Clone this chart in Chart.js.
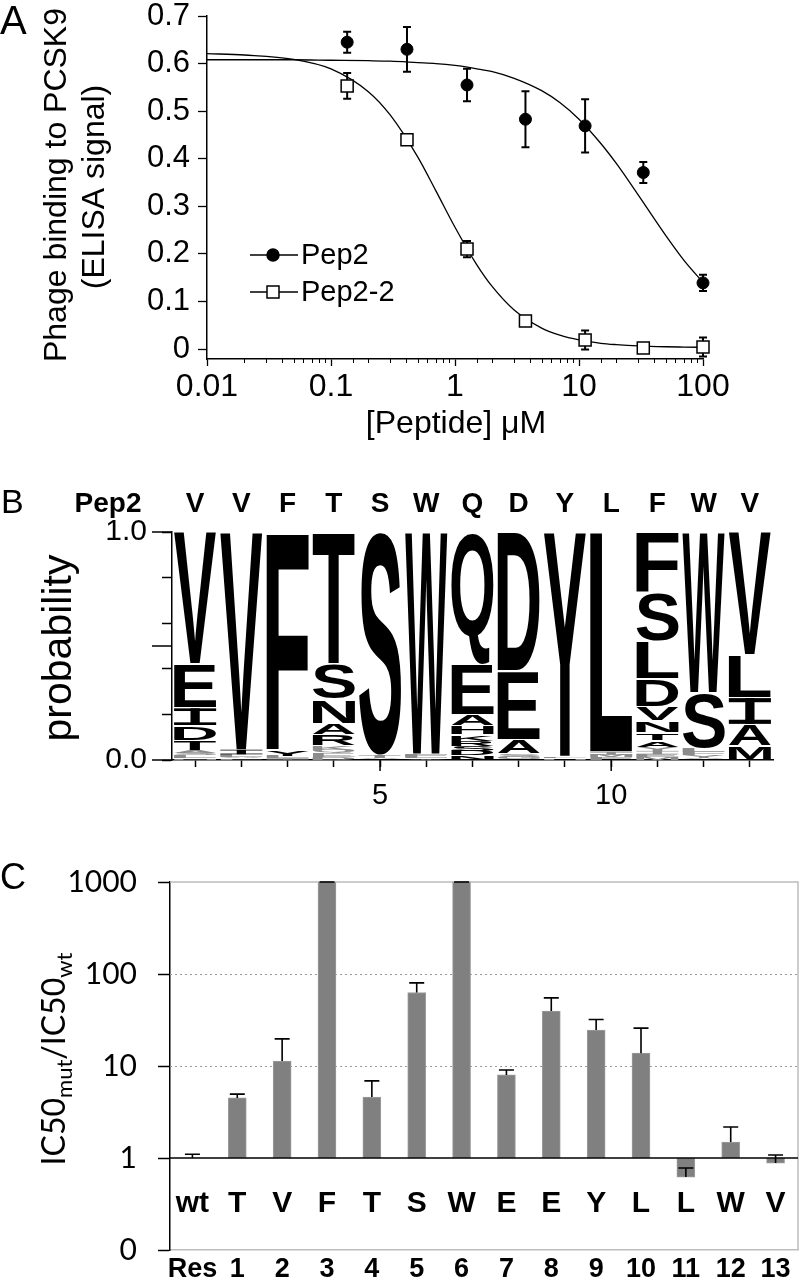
<!DOCTYPE html>
<html><head><meta charset="utf-8">
<script src="https://cdn.jsdelivr.net/npm/chart.js@4.4.0/dist/chart.umd.min.js"></script>
<style>
body{margin:0;background:#fff;width:800px;height:1277px;position:relative;overflow:hidden}
canvas{position:absolute;left:0}
</style></head><body>
<canvas id="cA" width="800" height="445" style="top:0px;width:800px;height:445px"></canvas>
<canvas id="cB" width="800" height="385" style="top:445px;width:800px;height:385px"></canvas>
<canvas id="cC" width="800" height="447" style="top:830px;width:800px;height:447px"></canvas>
<script>
// ================= DATA =================
// Panel A
const concA = [0.135, 0.41, 1.25, 3.7, 11.2, 33, 100];
const pep2Vals = [0.645, 0.630, 0.555, 0.483, 0.469, 0.371, 0.139];
const pep2Err = [0.022, 0.047, 0.034, 0.059, 0.056, 0.022, 0.017];
const pep22Vals = [0.553, 0.440, 0.210, 0.059, 0.019, 0.002, 0.004];
const pep22Err = [0.027, 0.006, 0.017, 0.006, 0.020, 0.008, 0.020];
const curveX = [0.01,0.02,0.05,0.1,0.2,0.3,0.5,0.7,1,1.5,2,3,5,7,10,15,20,30,50,70,100];
const pep2Curve = [0.608,0.608,0.608,0.607,0.606,0.605,0.602,0.600,0.596,0.589,0.583,0.569,0.543,0.518,0.483,0.432,0.390,0.324,0.239,0.187,0.140];
const pep22Curve = [0.621,0.618,0.609,0.589,0.541,0.492,0.404,0.333,0.256,0.177,0.131,0.082,0.044,0.029,0.019,0.012,0.0092,0.0065,0.0047,0.0041,0.0036];
const seriesNamesA = ['Pep2', 'Pep2-2'];
const yTicksA = [0, 0.1, 0.2, 0.3, 0.4, 0.5, 0.6, 0.7];
const xDecadeLabelsA = ['0.01', '0.1', '1', '10', '100'];

// Panel B (sequence logo)
const logoPositions = ['1','2','3','4','5','6','7','8','9','10','11','12','13'];
const pep2Seq = ['V','V','F','T','S','W','Q','D','Y','L','F','W','V'];
const logoLetters = [
  ['V','E','I','D','T','A','S','L','N'],
  ['V','I','L','A','F'],
  ['F','Y','L','I'],
  ['T','S','N','A','R','K','Q','E','D'],
  ['S','T','A'],
  ['W','F','L','Y'],
  ['Q','E','A','H','K','R','S','D','N'],
  ['D','E','A','S','G'],
  ['Y','F','H'],
  ['L','I','M','F'],
  ['F','S','L','D','V','N','T','A','Y','I','E','M'],
  ['W','S','L','F','Y','A'],
  ['V','L','I','A','M']
];
const logoProbs = [
  [0.58,0.19,0.08,0.065,0.045,0.01,0.01,0.01,0.01],
  [0.955,0.02,0.01,0.008,0.007],
  [0.955,0.03,0.008,0.007],
  [0.58,0.155,0.105,0.05,0.05,0.015,0.015,0.015,0.015],
  [0.98,0.01,0.01],
  [0.975,0.01,0.008,0.007],
  [0.58,0.22,0.05,0.04,0.03,0.02,0.02,0.02,0.02],
  [0.61,0.30,0.065,0.012,0.013],
  [0.985,0.008,0.007],
  [0.965,0.012,0.012,0.011],
  [0.265,0.215,0.165,0.12,0.065,0.05,0.035,0.03,0.015,0.015,0.013,0.012],
  [0.706,0.244,0.015,0.015,0.01,0.01],
  [0.54,0.185,0.12,0.095,0.06]
];
const xLabelsShownB = ['5', '10'];
const yMajorB = [0, 0.5, 1.0];

// Panel C
const resLabels = ['Res','1','2','3','4','5','6','7','8','9','10','11','12','13'];
const resLetters = ['wt','T','V','F','T','S','W','E','E','Y','L','L','W','V'];
const ratioVals = [1.0, 4.5, 11.3, 1000, 4.6, 63, 1000, 8.0, 39.5, 24.6, 13.8, 0.62, 1.49, 0.88];
const ratioErrTop = [1.1, 4.95, 19.7, 1000, 6.9, 80, 1000, 9.05, 55, 32, 25.8, 0.78, 2.17, 1.08];
const yTicksC = [0.1, 1, 10, 100, 1000];
const yTickLabelsC = ['0', '1', '10', '100', '1000'];
const gridValuesC = [10, 100];
const baselineC = 1;

// ================= HELPERS =================
const ARIAL = '"Liberation Sans", Arial, Helvetica, sans-serif';
const CALI = 'Lato, "Open Sans", sans-serif';
const isDecade = v => Math.abs(Math.log10(v) - Math.round(Math.log10(v))) < 1e-9;
const common = {
  responsive: false, animation: false, devicePixelRatio: 1,
  plugins: { legend: { display: false }, tooltip: { enabled: false } }
};

// ================= PANEL A =================
const plugA = {
  id: 'plugA',
  beforeDatasetsDraw(chart) {
    const ctx = chart.ctx, xs = chart.scales.x, ys = chart.scales.y;
    ctx.save();
    ctx.strokeStyle = '#000'; ctx.lineWidth = 2;
    const draw = (vals, errs) => {
      vals.forEach((v, i) => {
        const x = xs.getPixelForValue(concA[i]);
        const y1 = ys.getPixelForValue(v + errs[i]), y2 = ys.getPixelForValue(v - errs[i]);
        ctx.beginPath();
        ctx.moveTo(x, y1); ctx.lineTo(x, y2);
        ctx.moveTo(x - 4, y1); ctx.lineTo(x + 4, y1);
        ctx.moveTo(x - 4, y2); ctx.lineTo(x + 4, y2);
        ctx.stroke();
      });
    };
    draw(pep2Vals, pep2Err);
    draw(pep22Vals, pep22Err);
    ctx.restore();
  },
  afterDraw(chart) {
    const ctx = chart.ctx, xs = chart.scales.x, ca = chart.chartArea;
    ctx.save();
    ctx.strokeStyle = '#000'; ctx.lineWidth = 1;
    xs.ticks.forEach(t => {
      if (!isDecade(t.value)) {
        const x = Math.round(xs.getPixelForValue(t.value)) + 0.5;
        ctx.beginPath(); ctx.moveTo(x, ca.bottom); ctx.lineTo(x, ca.bottom + 4); ctx.stroke();
      }
    });
    const rows = [{y: 255, fill: '#000', style: 'circle'}, {y: 292, fill: '#fff', style: 'rect'}];
    rows.forEach((r, i) => {
      ctx.strokeStyle = '#000'; ctx.lineWidth = 1.3;
      ctx.beginPath(); ctx.moveTo(250, r.y); ctx.lineTo(298, r.y); ctx.stroke();
      ctx.lineWidth = 1.5; ctx.fillStyle = r.fill;
      ctx.beginPath();
      if (r.style === 'circle') ctx.arc(273, r.y, 6, 0, Math.PI * 2);
      else ctx.rect(267, r.y - 6, 12, 12);
      ctx.fill(); ctx.stroke();
      ctx.fillStyle = '#000'; ctx.font = '29px ' + ARIAL;
      ctx.textAlign = 'left'; ctx.textBaseline = 'middle';
      ctx.fillText(seriesNamesA[i], 301, r.y + 1);
    });
    ctx.fillStyle = '#000';
    ctx.font = '32px ' + ARIAL; ctx.textAlign = 'center'; ctx.textBaseline = 'alphabetic';
    ctx.fillText('[Peptide] \u03BCM', 456, 433);
    ctx.save();
    ctx.translate(66, 185); ctx.rotate(-Math.PI / 2);
    ctx.fillText('Phage binding to PCSK9', 0, 0);
    ctx.restore();
    ctx.save();
    ctx.translate(104, 187); ctx.rotate(-Math.PI / 2);
    ctx.fillText('(ELISA signal)', 0, 0);
    ctx.restore();
    ctx.font = '40px ' + ARIAL; ctx.textAlign = 'left';
    ctx.fillText('A', 0, 34);
    ctx.restore();
  }
};

new Chart(document.getElementById('cA'), {
  type: 'scatter',
  data: {
    datasets: [
      { label: seriesNamesA[0], data: concA.map((x, i) => ({x, y: pep2Vals[i]})), showLine: false,
        pointStyle: 'circle', pointRadius: 6, backgroundColor: '#000', borderColor: '#000', borderWidth: 1, clip: false },
      { label: seriesNamesA[1], data: concA.map((x, i) => ({x, y: pep22Vals[i]})), showLine: false,
        pointStyle: 'rect', pointRadius: 8.5, backgroundColor: '#fff', borderColor: '#000', borderWidth: 1.5, clip: false },
      { data: curveX.map((x, i) => ({x, y: pep2Curve[i]})), showLine: true, pointRadius: 0,
        borderColor: '#000', borderWidth: 1.3, cubicInterpolationMode: 'monotone' },
      { data: curveX.map((x, i) => ({x, y: pep22Curve[i]})), showLine: true, pointRadius: 0,
        borderColor: '#000', borderWidth: 1.3, cubicInterpolationMode: 'monotone' }
    ]
  },
  options: Object.assign({}, common, {
    layout: { padding: { top: 16, right: 97, left: 0, bottom: 0 } },
    scales: {
      x: {
        type: 'logarithmic', min: 0.01, max: 100,
        afterFit(s) { s.height = 86; s.paddingLeft = 0; s.paddingRight = 0; },
        grid: { drawOnChartArea: false, drawTicks: true, tickLength: 7, tickWidth: 1.3,
                tickColor: c => (c.tick && isDecade(c.tick.value)) ? '#000' : 'rgba(0,0,0,0)' },
        border: { display: true, color: '#000', width: 1.5 },
        ticks: { autoSkip: false, maxRotation: 0, minRotation: 0, padding: 2, color: '#000',
                 font: { family: ARIAL, size: 32 },
                 callback(v) { return isDecade(v) ? xDecadeLabelsA[Math.round(Math.log10(v)) + 2] : ''; } }
      },
      y: {
        min: -0.021, max: 0.7,
        afterBuildTicks(s) { s.ticks = yTicksA.map(v => ({value: v})); },
        afterFit(s) { s.width = 207; s.paddingTop = 0; s.paddingBottom = 0; },
        grid: { drawOnChartArea: false, tickLength: 9, tickColor: '#000', tickWidth: 1.3 },
        border: { display: true, color: '#000', width: 1.5 },
        ticks: { padding: 8, color: '#000', font: { family: ARIAL, size: 31 },
                 callback(v) { return Math.abs(v) < 1e-9 ? '0' : v.toFixed(1); } }
      }
    }
  }),
  plugins: [plugA]
});

// ================= PANEL B =================
const maxLen = Math.max(...logoLetters.map(a => a.length));
const revLetters = logoLetters.map(a => a.slice().reverse());
const revProbs = logoProbs.map(a => a.slice().reverse());
const logoDatasets = [];
for (let k = 0; k < maxLen; k++) {
  logoDatasets.push({
    data: revProbs.map(p => (k < p.length ? p[k] : 0)),
    backgroundColor: 'rgba(0,0,0,0)', borderWidth: 0,
    barPercentage: 0.91, categoryPercentage: 1.0
  });
}
const glyphCache = {};
function drawGlyph(ctx, ch, x, y, w, h, color) {
  if (h <= 0.3 || w <= 0) return;
  ctx.save();
  ctx.fillStyle = color;
  if (ch === 'I') {
    // serifed capital I as used by the logo font
    const bar = Math.max(h * 0.16, 0.6), stem = w * 0.22;
    ctx.fillRect(x, y, w, bar);
    ctx.fillRect(x + (w - stem) / 2, y, stem, h);
    ctx.fillRect(x, y + h - bar, w, bar);
    ctx.restore();
    return;
  }
  ctx.font = 'bold 200px ' + ARIAL;
  ctx.textAlign = 'left'; ctx.textBaseline = 'alphabetic';
  let m = glyphCache[ch];
  if (!m) {
    const mm = ctx.measureText(ch);
    m = glyphCache[ch] = { l: mm.actualBoundingBoxLeft, r: mm.actualBoundingBoxRight,
                           a: mm.actualBoundingBoxAscent, d: mm.actualBoundingBoxDescent };
  }
  const gw = m.l + m.r, gh = m.a + m.d;
  ctx.translate(x, y);
  ctx.scale(w / gw, h / gh);
  ctx.fillText(ch, m.l, m.a);
  ctx.restore();
}
const plugB = {
  id: 'plugB',
  afterDatasetsDraw(chart) {
    const ctx = chart.ctx;
    for (let k = 0; k < maxLen; k++) {
      const meta = chart.getDatasetMeta(k);
      meta.data.forEach((bar, i) => {
        if (k >= revLetters[i].length) return;
        const p = bar.getProps(['x', 'y', 'base', 'width'], true);
        const top = Math.min(p.y, p.base), h = Math.abs(p.base - p.y);
        let y0 = top, hh = h;
        if (h > 5) { y0 = top + 0.8; hh = h - 1.6; }
        const col = h < 3.5 ? '#8c8c8c' : '#000';
        drawGlyph(ctx, revLetters[i][k], p.x - p.width / 2, y0, p.width, hh, col);
      });
    }
  },
  afterDraw(chart) {
    const ctx = chart.ctx, xs = chart.scales.x, ys = chart.scales.y, ca = chart.chartArea;
    ctx.save();
    ctx.strokeStyle = '#000'; ctx.lineWidth = 1.5;
    yMajorB.forEach(v => {
      const y = ys.getPixelForValue(v);
      ctx.beginPath(); ctx.moveTo(ca.left - 20, y); ctx.lineTo(ca.left, y); ctx.stroke();
    });
    logoPositions.forEach((lab, i) => {
      if (xLabelsShownB.includes(lab)) {
        const x = xs.getPixelForValue(i);
        ctx.beginPath(); ctx.moveTo(x, ca.bottom); ctx.lineTo(x, ca.bottom + 11); ctx.stroke();
      }
    });
    ctx.fillStyle = '#000';
    ctx.font = 'bold 28px ' + ARIAL; ctx.textAlign = 'center'; ctx.textBaseline = 'alphabetic';
    ctx.fillText('Pep2', 108, 67);
    pep2Seq.forEach((c, i) => ctx.fillText(c, xs.getPixelForValue(i), 67));
    ctx.font = '41px ' + ARIAL;
    ctx.save(); ctx.translate(71, 203); ctx.rotate(-Math.PI / 2);
    ctx.fillText('probability', 0, 0);
    ctx.restore();
    ctx.font = '34px ' + ARIAL; ctx.textAlign = 'left';
    ctx.fillText('B', 1, 68);
    ctx.restore();
  }
};
new Chart(document.getElementById('cB'), {
  type: 'bar',
  data: { labels: logoPositions, datasets: logoDatasets },
  options: Object.assign({}, common, {
    layout: { padding: { top: 87, right: 27, left: 0, bottom: 0 } },
    scales: {
      x: {
        stacked: true,
        afterFit(s) { s.height = 70; s.paddingLeft = 0; s.paddingRight = 0; },
        grid: { drawOnChartArea: false, offset: false, tickLength: 7, tickColor: '#000', tickWidth: 1.5 },
        border: { display: true, color: '#000', width: 1.5 },
        ticks: { autoSkip: false, maxRotation: 0, padding: 12, color: '#000', font: { family: ARIAL, size: 29 },
                 callback(v, i) { return xLabelsShownB.includes(logoPositions[i]) ? logoPositions[i] : ''; } }
      },
      y: {
        stacked: true, min: 0, max: 1,
        afterFit(s) { s.width = 172; s.paddingTop = 0; s.paddingBottom = 0; },
        grid: { drawOnChartArea: false, tickLength: 10, tickColor: '#000', tickWidth: 1.5 },
        border: { display: true, color: '#000', width: 1.5 },
        ticks: { stepSize: 0.1, padding: 15, color: '#000', font: { family: ARIAL, size: 30 },
                 callback(v) { return yMajorB.some(m => Math.abs(m - v) < 1e-6) ? v.toFixed(1) : ''; } }
      }
    }
  }),
  plugins: [plugB]
});

// ================= PANEL C =================
const plugC = {
  id: 'plugC',
  beforeDatasetsDraw(chart) {
    const ctx = chart.ctx, ys = chart.scales.y, ca = chart.chartArea;
    ctx.save();
    ctx.strokeStyle = '#9a9a9a'; ctx.lineWidth = 1; ctx.setLineDash([2, 3]);
    gridValuesC.forEach(v => {
      const y = Math.round(ys.getPixelForValue(v)) + 0.5;
      ctx.beginPath(); ctx.moveTo(ca.left, y); ctx.lineTo(ca.right, y); ctx.stroke();
    });
    ctx.setLineDash([]);
    ctx.strokeStyle = '#bdbdbd'; ctx.lineWidth = 1.5;
    ctx.beginPath();
    ctx.moveTo(ca.left, ys.getPixelForValue(1000)); ctx.lineTo(ca.right, ys.getPixelForValue(1000));
    ctx.lineTo(ca.right, ca.bottom);
    ctx.stroke();
    ctx.restore();
  },
  afterDatasetsDraw(chart) {
    const ctx = chart.ctx, ys = chart.scales.y, ca = chart.chartArea;
    const meta = chart.getDatasetMeta(0);
    ctx.save();
    ctx.strokeStyle = '#000'; ctx.lineWidth = 1.5;
    const yb = ys.getPixelForValue(baselineC);
    ctx.beginPath(); ctx.moveTo(ca.left, yb); ctx.lineTo(ca.right, yb); ctx.stroke();
    ctx.lineWidth = 1.6;
    meta.data.forEach((bar, i) => {
      const x = bar.x;
      const yv = ys.getPixelForValue(ratioVals[i]), yt = ys.getPixelForValue(ratioErrTop[i]);
      ctx.beginPath();
      ctx.moveTo(x, yv); ctx.lineTo(x, yt);
      ctx.moveTo(x - 7.5, yt); ctx.lineTo(x + 7.5, yt);
      ctx.stroke();
    });
    ctx.fillStyle = '#000'; ctx.font = 'bold 30px ' + ARIAL;
    ctx.textAlign = 'center'; ctx.textBaseline = 'middle';
    meta.data.forEach((bar, i) => ctx.fillText(resLetters[i], bar.x, 374));
    ctx.restore();
  },
  afterDraw(chart) {
    const ctx = chart.ctx;
    ctx.save();
    ctx.fillStyle = '#000'; ctx.textBaseline = 'alphabetic'; ctx.textAlign = 'left';
    const parts = [
      {t: 'IC50', f: '32px ' + CALI, dy: 0},
      {t: 'mut', f: '22px ' + CALI, dy: 7},
      {t: '/IC50', f: '32px ' + CALI, dy: 0},
      {t: 'wt', f: '22px ' + CALI, dy: 7}
    ];
    let total = 0;
    parts.forEach(p => { ctx.font = p.f; p.w = ctx.measureText(p.t).width; total += p.w; });
    ctx.translate(65, 229); ctx.rotate(-Math.PI / 2);
    let x = -total / 2;
    parts.forEach(p => { ctx.font = p.f; ctx.fillText(p.t, x, p.dy); x += p.w; });
    ctx.restore();
    ctx.save();
    ctx.fillStyle = '#000'; ctx.font = '36px ' + ARIAL; ctx.textAlign = 'left';
    ctx.fillText('C', 0, 59);
    ctx.restore();
  }
};
new Chart(document.getElementById('cC'), {
  type: 'bar',
  data: {
    labels: resLabels,
    datasets: [{
      data: ratioVals.map(v => [baselineC, v]),
      backgroundColor: '#808080', borderColor: '#9c9c9c', borderWidth: 1, borderSkipped: false,
      barThickness: 18
    }]
  },
  options: Object.assign({}, common, {
    layout: { padding: { top: 52, right: 2, left: 0, bottom: 0 } },
    scales: {
      x: {
        afterFit(s) { s.height = 27; s.paddingLeft = 0; s.paddingRight = 0; },
        grid: { display: true, drawOnChartArea: false, drawTicks: false },
        border: { display: true, color: '#bdbdbd', width: 1.5 },
        ticks: { autoSkip: false, maxRotation: 0, padding: 3, color: '#000',
                 font: { family: ARIAL, size: 27, weight: 'bold' } }
      },
      y: {
        type: 'logarithmic', min: 0.1, max: 1000,
        afterBuildTicks(s) { s.ticks = yTicksC.map(v => ({value: v})); },
        afterFit(s) { s.width = 170; s.paddingTop = 0; s.paddingBottom = 0; },
        grid: { drawOnChartArea: false, tickLength: 12, tickColor: '#000', tickWidth: 1.5 },
        border: { display: true, color: '#000', width: 1.5 },
        ticks: { padding: 21, color: '#000', font: { family: CALI, size: 30 },
                 callback(v) { const j = yTicksC.findIndex(t => Math.abs(t - v) < 1e-9); return j >= 0 ? yTickLabelsC[j] : ''; } }
      }
    }
  }),
  plugins: [plugC]
});
</script>
</body></html>
